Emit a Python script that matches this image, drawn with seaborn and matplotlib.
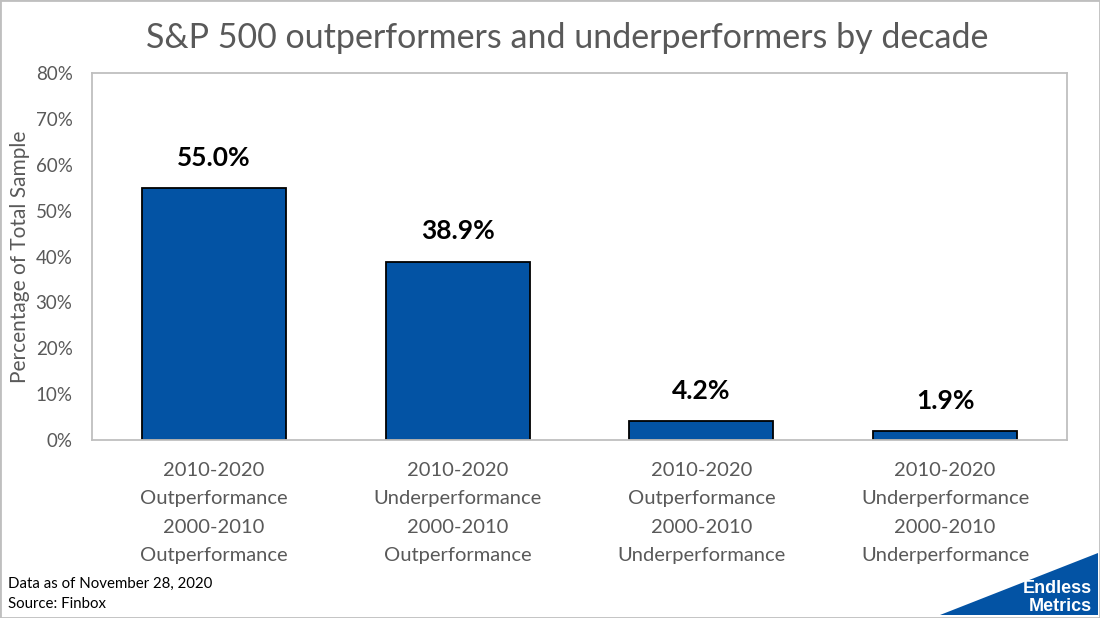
import matplotlib
matplotlib.use("Agg")
import matplotlib.pyplot as plt
import seaborn as sns
import pandas as pd
from matplotlib.patches import Polygon, Rectangle
from matplotlib.ticker import PercentFormatter

categories = [
    "2010-2020\nOutperformance\n2000-2010\nOutperformance",
    "2010-2020\nUnderperformance\n2000-2010\nOutperformance",
    "2010-2020\nOutperformance\n2000-2010\nUnderperformance",
    "2010-2020\nUnderperformance\n2000-2010\nUnderperformance",
]
shares = [55.0, 38.9, 4.2, 1.9]
yticks = [0, 10, 20, 30, 40, 50, 60, 70, 80]

df = pd.DataFrame({"group": categories, "share": shares})

sns.set_theme(style="white")
plt.rcParams["font.family"] = ["Lato", "DejaVu Sans"]

grey = "#595959"
blue = "#0353A4"

fig = plt.figure(figsize=(11, 6.18), dpi=100)
# plot area in pixels: x 92..1067, y 73..440
ax = fig.add_axes([92 / 1100, (618 - 440) / 618, 975 / 1100, 367 / 618])

sns.barplot(data=df, x="group", y="share", color=blue, width=0.59,
            edgecolor="black", linewidth=1.3, saturation=1, ax=ax)

for p, v in zip(ax.patches, shares):
    ax.annotate(f"{v:.1f}%", (p.get_x() + p.get_width() / 2, v),
                xytext=(0, 13), textcoords="offset points",
                ha="center", va="bottom", fontsize=19, fontweight="bold",
                color="black")

ax.set_ylim(0, 80)
ax.set_xlim(-0.5, 3.5)
ax.set_yticks(yticks)
ax.yaxis.set_major_formatter(PercentFormatter(decimals=0))
ax.tick_params(axis="y", labelsize=13.5, labelcolor=grey, length=0, pad=14)
ax.tick_params(axis="x", labelsize=14.5, labelcolor=grey, length=0, pad=16)
for lab in ax.get_xticklabels():
    lab.set_linespacing(1.8)
ax.set_xlabel("")
ax.set_ylabel("Percentage of Total Sample", fontsize=15, color=grey, labelpad=4)
for s in ax.spines.values():
    s.set_visible(True)
    s.set_color("#BFBFBF")
    s.set_linewidth(1.3)

fig.text(0.516, 0.938, "S&P 500 outperformers and underperformers by decade",
         ha="center", va="center", fontsize=24.5, color=grey)

fig.text(0.007, 0.056, "Data as of November 28, 2020", fontsize=10.8, color="black", va="center")
fig.text(0.007, 0.022, "Source: Finbox", fontsize=10.8, color="black", va="center")

# logo
fig.patches.append(Polygon([[940, 3], [1098, 65], [1098, 3]], closed=True,
                           transform=None, facecolor=blue, edgecolor="none"))
fig.text(0.993, 0.047, "Endless", ha="right", va="center", fontsize=13,
         fontweight="bold", color="white", family="Liberation Sans")
fig.text(0.993, 0.018, "Metrics", ha="right", va="center", fontsize=13,
         fontweight="bold", color="white", family="Liberation Sans")

# outer frame
fig.patches.append(Rectangle((0, 0), 1, 1, transform=fig.transFigure, fill=False,
                             edgecolor="#BFBFBF", linewidth=2))

fig.savefig("out.png", dpi=100)
